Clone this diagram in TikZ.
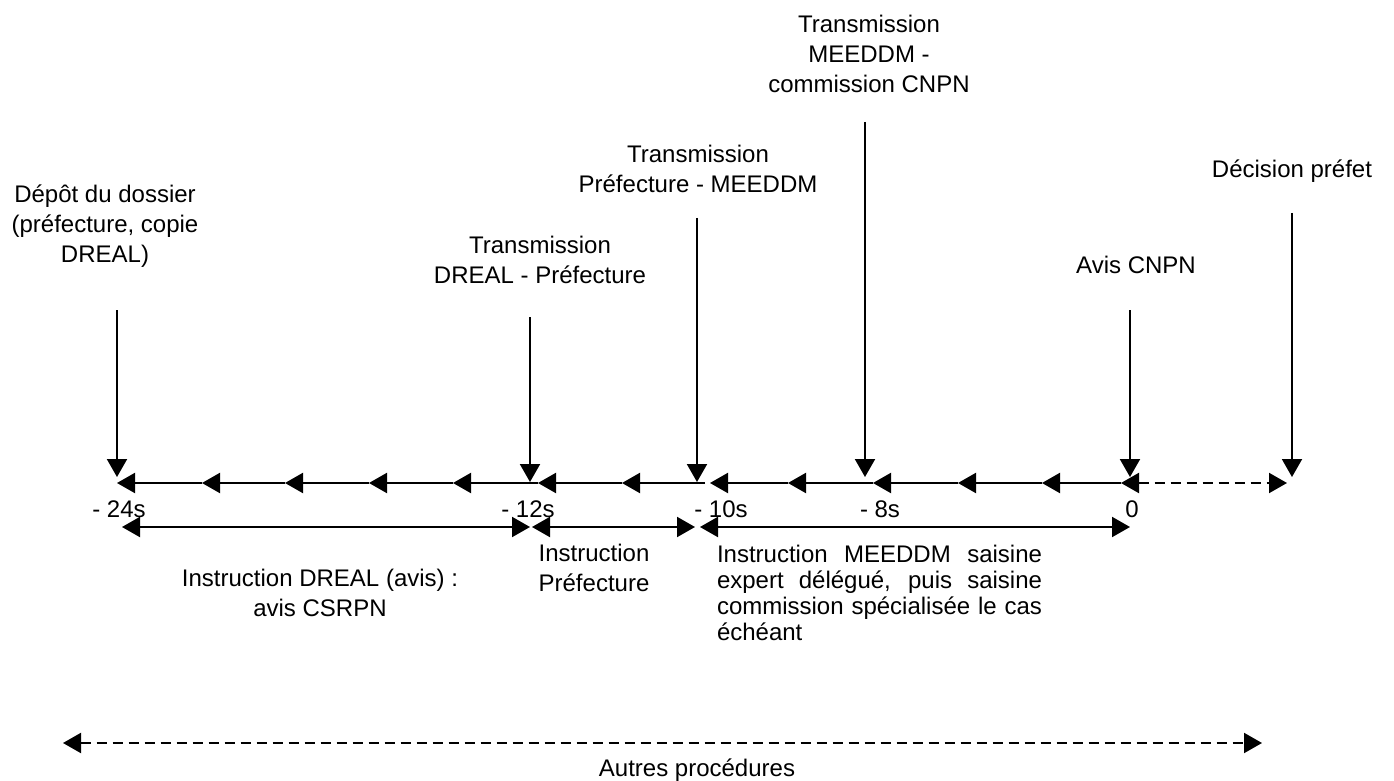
\documentclass[tikz,border=0pt]{standalone}
\usepackage{fontspec}
\setmainfont{Liberation Sans}
\usetikzlibrary{arrows.meta}
\tolerance=10000
\hbadness=10000
\begin{document}
\begin{tikzpicture}[x=0.5pt,y=-0.5pt,line width=1pt,
    >={Triangle[length=9pt,width=10pt]},
    lbl/.style={align=center,inner sep=0pt,anchor=base,
      font=\fontsize{12pt}{15pt}\selectfont},
    dashline/.style={dash pattern=on 5pt off 3pt}]
  \useasboundingbox (0,0) rectangle (1394,781);
  \draw
    (105,263) node[lbl] (depot){Dépôt du dossier\\(préfecture, copie\\DREAL)}
    (540,284) node[lbl] (trdreal){Transmission\\DREAL - Préfecture}
    (698,192) node[lbl] (trpref){Transmission\\Préfecture - MEEDDM}
    (869,93) node[lbl] (trmeeddm){Transmission\\MEEDDM -\\commission CNPN}
    (1292,177) node[lbl] (decision){Décision préfet}
    (1136,273) node[lbl] (avis){Avis CNPN}
    (119,517) node[lbl] (w24){- 24s}
    (528,517) node[lbl] (w12){- 12s}
    (721,517) node[lbl] (w10){- 10s}
    (880,517) node[lbl] (w8){- 8s}
    (1132,517) node[lbl] (w0){0}
    (320,616) node[lbl] (instrdreal){Instruction DREAL (avis) :\\avis CSRPN}
    (594,591) node[lbl] (instrpref){Instruction\\Préfecture}
    (716,562) node[lbl,anchor=base west,align=justify,text width=162.5pt,
      font=\fontsize{12pt}{13pt}\selectfont] (instrmeeddm)
      {Instruction MEEDDM saisine\linebreak expert délégué, puis saisine\linebreak
       commission spécialisée le cas\linebreak échéant}
    (697,776) node[lbl] (autres){Autres procédures};
  \coordinate (s1) at (117,483);
  \coordinate (s2) at (202,483);
  \coordinate (s3) at (285,483);
  \coordinate (s4) at (369,483);
  \coordinate (s5) at (453,483);
  \coordinate (s6) at (538,483);
  \coordinate (s7) at (622,483);
  \coordinate (s8) at (705,483);
  \coordinate (s9) at (710,483);
  \coordinate (s10) at (788,483);
  \coordinate (s11) at (873,483);
  \coordinate (s12) at (958,483);
  \coordinate (s13) at (1042,483);
  \coordinate (s14) at (1121,483);
  \coordinate (s15) at (1287,483);
  \coordinate (r1) at (122,527);
  \coordinate (r2) at (530,527);
  \coordinate (r3) at (532,527);
  \coordinate (r4) at (695,527);
  \coordinate (r5) at (700,527);
  \coordinate (r6) at (1130,527);
  \coordinate (b1) at (63,743);
  \coordinate (b2) at (1262,743);
  \coordinate (depottop) at (117,310);
  \coordinate (depottip) at (117,477);
  \coordinate (trdrealtop) at (530,317);
  \coordinate (trdrealtip) at (530,482);
  \coordinate (trpreftop) at (697,218);
  \coordinate (trpreftip) at (697,482);
  \coordinate (trmeeddmtop) at (865,122);
  \coordinate (trmeeddmtip) at (865,477);
  \coordinate (avistop) at (1130,310);
  \coordinate (avistip) at (1130,477);
  \coordinate (decisiontop) at (1292,213);
  \coordinate (decisiontip) at (1292,477);
  \begin{scope}[->]
    \draw (depottop) to (depottip);
    \draw (trdrealtop) to (trdrealtip);
    \draw (trpreftop) to (trpreftip);
    \draw (trmeeddmtop) to (trmeeddmtip);
    \draw (avistop) to (avistip);
    \draw (decisiontop) to (decisiontip);
    \draw (s2) to (s1);
    \draw (s3) to (s2);
    \draw (s4) to (s3);
    \draw (s5) to (s4);
    \draw (s6) to (s5);
    \draw (s7) to (s6);
    \draw (s8) to (s7);
    \draw (s10) to (s9);
    \draw (s11) to (s10);
    \draw (s12) to (s11);
    \draw (s13) to (s12);
    \draw (s14) to (s13);
  \end{scope}
  \begin{scope}[<->]
    \draw[dashline] (s14) to (s15);
    \draw (r1) to (r2);
    \draw (r3) to (r4);
    \draw (r5) to (r6);
    \draw[dashline] (b1) to (b2);
  \end{scope}
\end{tikzpicture}
\end{document}
